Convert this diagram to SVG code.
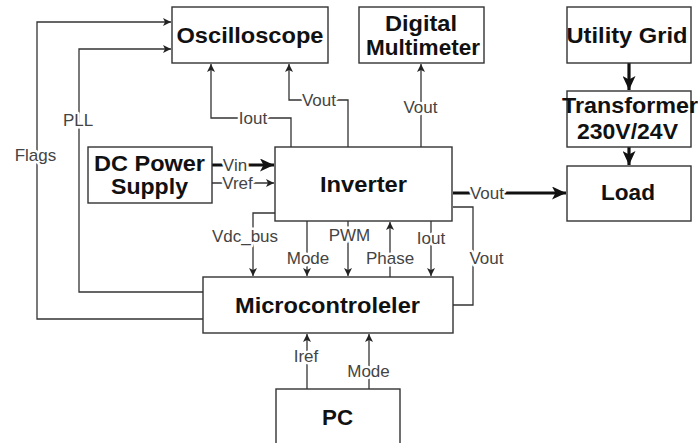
<svg xmlns="http://www.w3.org/2000/svg" width="698" height="443" viewBox="0 0 698 443">
<defs>
<style>
.box{fill:#fff;stroke:#333;stroke-width:1.4}
.t{font-family:"Liberation Sans",Arial,sans-serif;font-weight:bold;font-size:22px;fill:#111;text-anchor:middle}
.c{fill:none;stroke:#333;stroke-width:1.3}
.ck{fill:none;stroke:#111;stroke-width:3.2}
.l{font-family:"Liberation Sans",Arial,sans-serif;font-size:17px;fill:#444;text-anchor:middle;stroke:#fff;stroke-width:5px;paint-order:stroke;stroke-linejoin:round}
</style>
<marker id="a" markerUnits="userSpaceOnUse" markerWidth="9" markerHeight="8" refX="8" refY="4" orient="auto">
<path d="M0,0 L8,4 L0,8 L2,4 z" fill="#222"/>
</marker>
<marker id="ak" markerUnits="userSpaceOnUse" markerWidth="15" markerHeight="13" refX="14" refY="6.5" orient="auto">
<path d="M0,0 L14,6.5 L0,13 L3.5,6.5 z" fill="#111"/>
</marker>
</defs>
<rect width="698" height="443" fill="#fff"/>

<g id="connectors">
<path class="c" d="M203,319 H37 V22 H171" marker-end="url(#a)"/>
<path class="c" d="M203,292 H79 V49 H171" marker-end="url(#a)"/>
<path class="c" d="M291,147 V118 H211 V64" marker-end="url(#a)"/>
<path class="c" d="M348,147 V100 H289 V64" marker-end="url(#a)"/>
<path class="c" d="M421,147 V64" marker-end="url(#a)"/>
<path class="ck" d="M212,165 H274" marker-end="url(#ak)"/>
<path class="c" d="M212,183 H274" marker-end="url(#a)"/>
<path class="ck" d="M453,193 H566" marker-end="url(#ak)"/>
<path class="c" d="M275,213 H253 V276" marker-end="url(#a)"/>
<path class="c" d="M307,221 V276" marker-end="url(#a)"/>
<path class="c" d="M348,221 V276" marker-end="url(#a)"/>
<path class="c" d="M390,277 V222" marker-end="url(#a)"/>
<path class="c" d="M431,221 V276" marker-end="url(#a)"/>
<path class="c" d="M453,207 H473 V305 H453"/>
<path class="c" d="M307,389 V334" marker-end="url(#a)"/>
<path class="c" d="M369,389 V334" marker-end="url(#a)"/>
<path class="ck" d="M629,63 V90" marker-end="url(#ak)"/>
<path class="ck" d="M629,147 V165" marker-end="url(#ak)"/>
<text class="l" x="35.5" y="161">Flags</text>
<text class="l" x="78" y="126">PLL</text>
<text class="l" x="253" y="124">Iout</text>
<text class="l" x="319" y="106">Vout</text>
<text class="l" x="420.5" y="113">Vout</text>
<text class="l" x="235" y="171">Vin</text>
<text class="l" x="237.5" y="189">Vref</text>
<text class="l" x="487" y="199">Vout</text>
<text class="l" x="245" y="242">Vdc_bus</text>
<text class="l" x="308" y="264">Mode</text>
<text class="l" x="349.5" y="241">PWM</text>
<text class="l" x="390" y="264">Phase</text>
<text class="l" x="431" y="244">Iout</text>
<text class="l" x="486.5" y="264">Vout</text>
<text class="l" x="306" y="362">Iref</text>
<text class="l" x="368.5" y="377">Mode</text>
</g>

<g id="oscilloscope"><rect class="box" x="172" y="7" width="156" height="56"/><text class="t" x="250" y="43" textLength="147" lengthAdjust="spacingAndGlyphs">Oscilloscope</text></g>
<g id="multimeter"><rect class="box" x="359" y="7" width="125" height="56"/><text class="t" x="421" y="31" textLength="72" lengthAdjust="spacingAndGlyphs">Digital</text><text class="t" x="423" y="55" textLength="114" lengthAdjust="spacingAndGlyphs">Multimeter</text></g>
<g id="grid"><rect class="box" x="567" y="7" width="124" height="56"/><text class="t" x="627" y="43" textLength="121" lengthAdjust="spacingAndGlyphs">Utility Grid</text></g>
<g id="transformer"><rect class="box" x="567" y="91" width="124" height="56"/><text class="t" x="630" y="113" textLength="136" lengthAdjust="spacingAndGlyphs">Transformer</text><text class="t" x="627.5" y="139" textLength="101" lengthAdjust="spacingAndGlyphs">230V/24V</text></g>
<g id="load"><rect class="box" x="567" y="166" width="124" height="55"/><text class="t" x="628" y="200" textLength="54" lengthAdjust="spacingAndGlyphs">Load</text></g>
<g id="dcsupply"><rect class="box" x="88" y="147" width="124" height="56"/><text class="t" x="149.5" y="171" textLength="111" lengthAdjust="spacingAndGlyphs">DC Power</text><text class="t" x="149.5" y="194" textLength="77" lengthAdjust="spacingAndGlyphs">Supply</text></g>
<g id="inverter"><rect class="box" x="275" y="147" width="177" height="74"/><text class="t" x="363.5" y="192" textLength="87" lengthAdjust="spacingAndGlyphs">Inverter</text></g>
<g id="micro"><rect class="box" x="203" y="277" width="250" height="56"/><text class="t" x="327.5" y="313" textLength="185" lengthAdjust="spacingAndGlyphs">Microcontroleler</text></g>
<g id="pc"><rect class="box" x="276" y="389" width="124" height="58"/><text class="t" x="337.5" y="425" textLength="31" lengthAdjust="spacingAndGlyphs">PC</text></g>
</svg>
